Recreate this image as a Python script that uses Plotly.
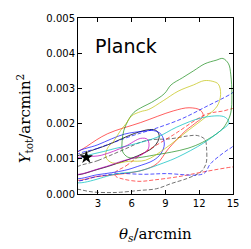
import plotly.graph_objects as go

# ---- contour vertices (theta_s [arcmin], Y_tot [arcmin^2]) ----
black_solid_x = [0.9, 2.0, 3.9, 6.25, 7.6, 8.2, 8.45, 8.0, 6.5, 4.8, 3.0, 0.9]
black_solid_y = [0.00100, 0.00118, 0.00140, 0.00172, 0.00183, 0.00180, 0.00163, 0.00135, 0.00108, 0.00088, 0.00070, 0.00057]

gray_dash_x = [0.9, 3.0, 5.0, 7.3, 9.5, 11.0, 11.85, 12.5, 12.65, 12.6, 12.14, 11.0, 9.54, 8.2, 6.65, 5.0, 3.9, 2.5, 1.5, 0.9]
gray_dash_y = [0.00070, 0.00095, 0.00122, 0.00152, 0.00157, 0.00165, 0.00166, 0.00155, 0.00130, 0.00086, 0.00063, 0.00045, 0.00030, 0.00015, 0.00010, 0.00005, 0.00004, 0.00006, 0.00012, 0.00018]

red_solid_x = [0.9, 2.0, 3.84, 6.8, 9.69, 11.1, 12.1, 12.35, 11.6, 10.8, 9.25, 8.24, 7.0, 5.35, 3.0, 0.9]
red_solid_y = [0.00108, 0.00135, 0.00171, 0.00203, 0.00236, 0.00245, 0.00238, 0.00222, 0.00200, 0.00180, 0.00128, 0.00086, 0.00068, 0.00058, 0.00050, 0.00042]

red_dash_x = [4.5, 5.5, 6.8, 9.7, 12.6, 14.0, 15.6, 15.6, 15.0, 12.4, 10.1, 8.0, 6.65, 5.3, 4.6]
red_dash_y = [0.00060, 0.00080, 0.00111, 0.00168, 0.00226, 0.00235, 0.00240, 0.00078, 0.00077, 0.00063, 0.00049, 0.00040, 0.00036, 0.00042, 0.00050]

blue_solid_x = [0.9, 3.0, 5.35, 7.0, 7.95, 8.6, 8.9, 8.6, 7.95, 6.5, 5.35, 3.0, 0.9]
blue_solid_y = [0.00112, 0.00140, 0.00170, 0.00178, 0.00180, 0.00170, 0.00142, 0.00115, 0.00096, 0.00078, 0.00067, 0.00055, 0.00047]

blue_dash_x = [0.9, 3.0, 6.0, 8.0, 10.4, 12.6, 14.75, 15.6, 15.6, 14.9, 14.46, 13.0, 12.4, 9.0, 7.0, 4.77, 3.0, 0.9]
blue_dash_y = [0.00105, 0.00130, 0.00165, 0.00185, 0.00213, 0.00248, 0.00283, 0.00300, 0.00160, 0.00133, 0.00124, 0.00086, 0.00058, 0.00058, 0.00056, 0.00058, 0.00050, 0.00040]

green_x = [5.64, 5.2, 5.15, 5.3, 5.7, 6.2, 7.0, 7.75, 8.9, 9.5, 10.5, 11.5, 12.5, 13.5, 14.1, 14.6, 14.8, 14.9, 14.8, 14.4, 13.9, 12.3, 11.0, 9.54, 8.24, 7.0, 6.2]
green_y = [0.00105, 0.00120, 0.00150, 0.00180, 0.00210, 0.00232, 0.00248, 0.00260, 0.00285, 0.00310, 0.00330, 0.00350, 0.00370, 0.00380, 0.00385, 0.00370, 0.00340, 0.00280, 0.00230, 0.00200, 0.00180, 0.00147, 0.00130, 0.00119, 0.00112, 0.00105, 0.00102]

yellow_x = [3.85, 4.4, 5.0, 5.5, 6.0, 6.8, 7.5, 8.8, 10.12, 11.5, 12.43, 13.2, 13.7, 13.9, 13.6, 12.7, 11.0, 9.0, 7.23, 5.75, 4.3, 3.7]
yellow_y = [0.00130, 0.00150, 0.00180, 0.00200, 0.00222, 0.00234, 0.00240, 0.00265, 0.00292, 0.00310, 0.00322, 0.00320, 0.00312, 0.00283, 0.00250, 0.00222, 0.00180, 0.00130, 0.00096, 0.00093, 0.00088, 0.00105]

cyan_x = [0.9, 3.9, 6.0, 8.24, 10.0, 12.29, 14.17, 14.6, 14.6, 13.9, 12.4, 10.1, 8.8, 6.65, 4.77, 0.9]
cyan_y = [0.00090, 0.00124, 0.00140, 0.00161, 0.00190, 0.00217, 0.00220, 0.00208, 0.00199, 0.00180, 0.00145, 0.00105, 0.00088, 0.00065, 0.00058, 0.00035]

magenta_x = [0.9, 3.3, 5.4, 6.8, 7.4, 7.5, 6.8, 5.1, 3.3, 0.9]
magenta_y = [0.00098, 0.00110, 0.00135, 0.00158, 0.00155, 0.00130, 0.00110, 0.00093, 0.00074, 0.00058]

star_x = [1.97]
star_y = [0.00104]

x_ticks = [3, 6, 9, 12, 15]
y_ticks = [0.000, 0.001, 0.002, 0.003, 0.004, 0.005]
x_range = [1.23, 15]
y_range = [0.0, 0.005]

contours = [
    (black_solid_x, black_solid_y, "rgba(0,0,0,0.85)", "solid"),
    (gray_dash_x, gray_dash_y, "rgba(70,70,70,0.85)", "4px,2px"),
    (red_solid_x, red_solid_y, "rgba(255,0,0,0.7)", "solid"),
    (red_dash_x, red_dash_y, "rgba(255,0,0,0.7)", "4px,2px"),
    (blue_solid_x, blue_solid_y, "rgba(0,0,255,0.75)", "solid"),
    (blue_dash_x, blue_dash_y, "rgba(0,0,255,0.75)", "4px,2px"),
    (green_x, green_y, "rgba(0,128,0,0.7)", "solid"),
    (yellow_x, yellow_y, "rgba(191,191,0,0.75)", "solid"),
    (cyan_x, cyan_y, "rgba(0,191,191,0.8)", "solid"),
    (magenta_x, magenta_y, "rgba(191,0,191,0.8)", "solid"),
]

fig = go.Figure()
for xs, ys, col, dash in contours:
    fig.add_trace(go.Scatter(
        x=list(xs) + [xs[0]], y=list(ys) + [ys[0]],
        mode="lines", line=dict(color=col, width=0.9, dash=dash, shape="spline", smoothing=1.0),
        hoverinfo="skip", showlegend=False))

fig.add_trace(go.Scatter(x=star_x, y=star_y, mode="markers",
                         marker=dict(symbol="star", size=10, color="black"),
                         hoverinfo="skip", showlegend=False))

fig.add_annotation(x=2.55, y=0.00421, xref="x", yref="y", text="Planck",
                   showarrow=False, xanchor="left", yanchor="middle",
                   font=dict(family="DejaVu Sans", size=19, color="black"))

fig.add_annotation(x=-0.345, y=0.427, xref="paper", yref="paper",
                   text="<i>Y</i><sub>tot</sub>/arcmin<sup>2</sup>", textangle=-90,
                   showarrow=False, xanchor="center", yanchor="middle",
                   font=dict(family="DejaVu Serif", size=15, color="black"))
fig.add_annotation(x=0.5, y=-0.232, xref="paper", yref="paper",
                   text="<i>θ</i><sub><i>s</i></sub>/arcmin",
                   showarrow=False, xanchor="center", yanchor="middle",
                   font=dict(family="DejaVu Serif", size=15, color="black"))

axis_common = dict(showline=True, linecolor="black", linewidth=1, mirror="ticks",
                   ticks="inside", ticklen=4, tickwidth=1, tickcolor="black",
                   showgrid=False, zeroline=False,
                   tickfont=dict(family="DejaVu Sans", size=10, color="black"))
fig.update_xaxes(range=x_range, tickvals=x_ticks, ticktext=[str(v) for v in x_ticks], **axis_common)
fig.update_yaxes(range=y_range, tickvals=y_ticks, ticktext=[f"{v:.3f}" for v in y_ticks], **axis_common)

fig.update_layout(width=251, height=249, margin=dict(l=78, r=15, t=16, b=55),
                  paper_bgcolor="white", plot_bgcolor="white", showlegend=False)

fig.write_html("out.html", config={"displayModeBar": False},
               post_script="document.body.style.margin='0';document.body.style.padding='0';"
                           "document.body.style.overflow='hidden';")
